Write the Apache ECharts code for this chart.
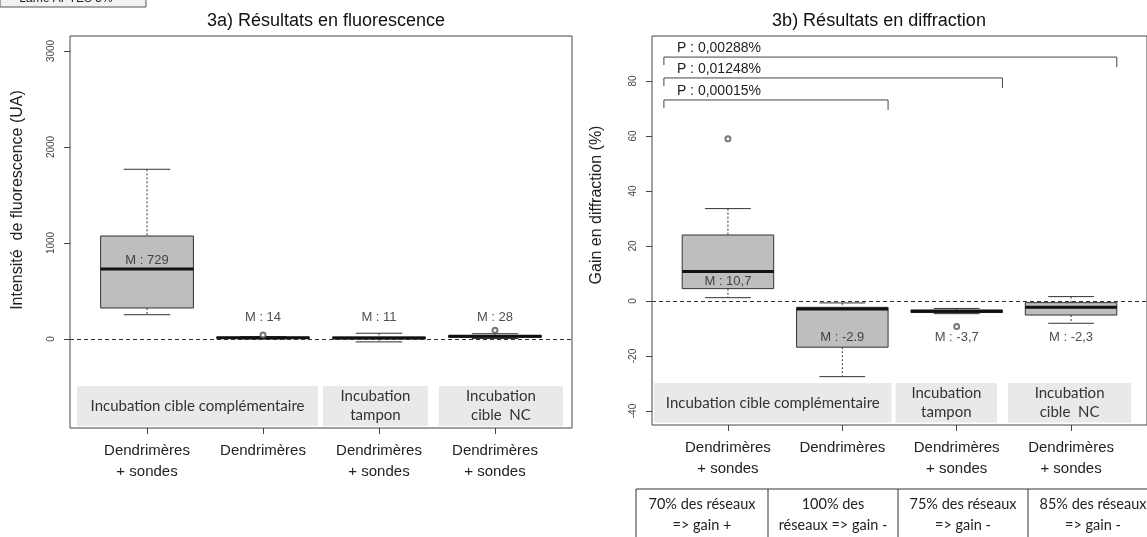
<!DOCTYPE html>
<html>
<head>
<meta charset="utf-8">
<script src="https://cdn.jsdelivr.net/npm/echarts@6/dist/echarts.min.js"></script>
<style>
html, body { margin: 0; padding: 0; background: #fff; }
#main { width: 1147px; height: 537px; }
</style>
</head>
<body>
<div id="main"></div>
<script>
// x tick labels (same four groups in both panels)
var categories = ['Dendrimères\n+ sondes', 'Dendrimères', 'Dendrimères\n+ sondes', 'Dendrimères\n+ sondes'];
var groupNames = ['Incubation cible complémentaire', 'Incubation\ntampon', 'Incubation\ncible  NC'];

// 3a : boxes as [min, Q1, median, Q3, max]
var fluoBoxes = [
	[253, 323, 729, 1073, 1768],
	[0, 8, 14, 18, 25],
	[-30, 2, 11, 20, 60],
	[5, 18, 28, 35, 55]
];
var fluoOutliers = [[2, 42], [4, 90]];
var fluoMedianText = ['M : 729', 'M : 14', 'M : 11', 'M : 28'];
var fluoTicks = [0, 1000, 2000, 3000];

// 3b
var diffBoxes = [
	[1.2, 4.5, 10.7, 24, 33.6],
	[-27.5, -16.8, -2.9, -2.3, -0.7],
	[-4.6, -4.2, -3.7, -3.3, -2.7],
	[-8.1, -5.1, -2.3, -0.6, 1.6]
];
var diffOutliers = [[1, 59], [3, -9.3]];
var diffMedianText = ['M : 10,7', 'M : -2.9', 'M : -3,7', 'M : -2,3'];
var diffTicks = [-40, -20, 0, 20, 40, 60, 80];

var pTexts = ['P : 0,00288%', 'P : 0,01248%', 'P : 0,00015%'];
var pTargets = [4, 3, 2];
var pLevels = [88.7, 81.1, 73.1];

var tableTexts = ['70% des réseaux\n=> gain +', '100% des\nréseaux => gain -', '75% des réseaux\n=> gain -', '85% des réseaux\n=> gain -'];

// layout (not data)
var L = {
	fluo: { yMin: -927.08, yMax: 3156.25, labelY: [823, 229, 229, 229], panelTop: -490, panelBot: -905,
		panels: [[0.397, 2.474], [2.517, 3.422], [3.517, 4.586]] },
	diff: { yMin: -45.09, yMax: 96.36, labelY: [7.3, -13.1, -13.1, -13.1], panelTop: -29.8, panelBot: -44.2,
		panels: [[0.353, 2.431], [2.466, 3.353], [3.448, 4.526]] }
};

var font = 'Liberation Sans, Arial, sans-serif';
var calibri = 'Lato, Open Sans, sans-serif';

function renderBox(params, api) {
	var x = api.value(0);
	var lo = api.coord([x, api.value(1)]);
	var q1 = api.coord([x, api.value(2)]);
	var md = api.coord([x, api.value(3)]);
	var q3 = api.coord([x, api.value(4)]);
	var hi = api.coord([x, api.value(5)]);
	var half = api.size([0.8, 0])[0] / 2;
	var cap = api.size([0.4, 0])[0] / 2;
	var cx = md[0];
	var dash = { stroke: '#333', lineWidth: 1, lineDash: [2, 2] };
	var ink = { stroke: '#333', lineWidth: 1 };
	return {
		type: 'group',
		children: [
			{ type: 'line', shape: { x1: cx, y1: hi[1], x2: cx, y2: q3[1] }, style: dash },
			{ type: 'line', shape: { x1: cx, y1: q1[1], x2: cx, y2: lo[1] }, style: dash },
			{ type: 'line', shape: { x1: cx - cap, y1: hi[1], x2: cx + cap, y2: hi[1] }, style: ink },
			{ type: 'line', shape: { x1: cx - cap, y1: lo[1], x2: cx + cap, y2: lo[1] }, style: ink },
			{ type: 'rect', shape: { x: cx - half, y: q3[1], width: half * 2, height: Math.max(q1[1] - q3[1], 1) },
				style: { fill: '#bebebe', stroke: '#333', lineWidth: 1 } },
			{ type: 'line', shape: { x1: cx - half, y1: md[1], x2: cx + half, y2: md[1] }, style: { stroke: '#111', lineWidth: 3 } }
		]
	};
}

function xAxisFor(idx) {
	return {
		gridIndex: idx, type: 'value', min: 0.336, max: 4.664,
		axisLine: { show: false, onZero: false },
		splitLine: { show: false },
		axisTick: { show: true, length: 6, customValues: [1, 2, 3, 4], lineStyle: { color: '#444' } },
		axisLabel: {
			customValues: [1, 2, 3, 4], margin: 12,
			fontFamily: font, fontSize: 15, color: '#222', lineHeight: 21,
			formatter: function (v) { return categories[Math.round(v) - 1] || ''; }
		}
	};
}

function yAxisFor(idx, cfg, ticks) {
	return {
		gridIndex: idx, type: 'value', min: cfg.yMin, max: cfg.yMax,
		axisLine: { show: false, onZero: false },
		splitLine: { show: false },
		axisTick: { show: true, length: 6, customValues: ticks, lineStyle: { color: '#444' } },
		axisLabel: { customValues: ticks, rotate: 90, margin: 14, fontFamily: font, fontSize: 10, color: '#444',
			formatter: function (v) { return String(Math.round(v)); } }
	};
}

function seriesFor(idx, cfg, boxes, outliers, medText) {
	var panelData = cfg.panels.map(function (p, i) {
		return [{ xAxis: p[0], yAxis: cfg.panelTop, name: groupNames[i] }, { xAxis: p[1], yAxis: cfg.panelBot }];
	});
	return [
		{
			type: 'scatter', xAxisIndex: idx, yAxisIndex: idx, z: 1,
			data: [], silent: true,
			markArea: {
				silent: true,
				itemStyle: { color: '#e9e9e9' },
				label: { show: true, position: 'inside', fontFamily: calibri, fontSize: 15, color: '#333', lineHeight: 19 },
				data: panelData
			},
			markLine: {
				silent: true, symbol: ['none', 'none'],
				label: { show: false },
				lineStyle: { type: [4, 3], color: '#333', width: 1 },
				data: [{ yAxis: 0 }]
			}
		},
		{
			type: 'custom', xAxisIndex: idx, yAxisIndex: idx, z: 3,
			renderItem: renderBox,
			data: boxes.map(function (b, i) { return [i + 1].concat(b); })
		},
		{
			type: 'scatter', xAxisIndex: idx, yAxisIndex: idx, z: 4,
			symbol: 'emptyCircle', symbolSize: 5,
			itemStyle: { color: '#555', borderWidth: 1 },
			data: outliers
		},
		{
			type: 'scatter', xAxisIndex: idx, yAxisIndex: idx, z: 5,
			symbolSize: 0,
			data: cfg.labelY.map(function (y, i) { return [i + 1, y]; }),
			label: {
				show: true, position: 'inside', fontFamily: font, fontSize: 13, color: '#222',
				formatter: function (p) { return medText[p.dataIndex]; }
			}
		}
	];
}

var chart = echarts.init(document.getElementById('main'));
var option = {
	animation: false,
	backgroundColor: '#fff',
	title: [
		{ text: '3a) Résultats en fluorescence', left: 321, top: 7, textAlign: 'center',
			textStyle: { fontFamily: font, fontSize: 18, fontWeight: 'normal', color: '#111' } },
		{ text: '3b) Résultats en diffraction', left: 874, top: 7, textAlign: 'center',
			textStyle: { fontFamily: font, fontSize: 18, fontWeight: 'normal', color: '#111' } }
	],
	grid: [
		{ left: 70, top: 36, width: 502, height: 392, show: true, borderColor: '#444', borderWidth: 1, backgroundColor: 'transparent' },
		{ left: 652, top: 36, width: 502, height: 389, show: true, borderColor: '#444', borderWidth: 1, backgroundColor: 'transparent' }
	],
	xAxis: [xAxisFor(0), xAxisFor(1)],
	yAxis: [yAxisFor(0, L.fluo, fluoTicks), yAxisFor(1, L.diff, diffTicks)],
	series: seriesFor(0, L.fluo, fluoBoxes, fluoOutliers, fluoMedianText)
		.concat(seriesFor(1, L.diff, diffBoxes, diffOutliers, diffMedianText))
};
chart.setOption(option);

// annotations placed through the chart's own scales
var g = [];
// cropped button at the very top
g.push({ type: 'rect', shape: { x: 0, y: -14, width: 146, height: 21 }, style: { fill: '#f2f2f2', stroke: '#555', lineWidth: 1 } });
g.push({ type: 'text', x: 66, y: -1, style: { text: 'Lame APTES 5%', font: '12px ' + font, fill: '#222', align: 'center', verticalAlign: 'middle' } });
// y axis titles
g.push({ type: 'text', x: 18, y: 200, rotation: Math.PI / 2,
	style: { text: 'Intensité  de fluorescence (UA)', font: '16px ' + font, fill: '#222', align: 'center', verticalAlign: 'middle' } });
g.push({ type: 'text', x: 597, y: 205, rotation: Math.PI / 2,
	style: { text: 'Gain en diffraction (%)', font: '16px ' + font, fill: '#222', align: 'center', verticalAlign: 'middle' } });
// significance brackets
pTexts.forEach(function (t, i) {
	var a = chart.convertToPixel({ gridIndex: 1 }, [1 - 0.56, pLevels[i]]);
	var b = chart.convertToPixel({ gridIndex: 1 }, [pTargets[i] + 0.4, pLevels[i]]);
	g.push({ type: 'polyline', shape: { points: [[a[0], a[1] + 8], [a[0], a[1]], [b[0], b[1]], [b[0], b[1] + 10]] },
		style: { stroke: '#444', lineWidth: 1, fill: null } });
	g.push({ type: 'text', x: a[0] + 13, y: a[1] - 9,
		style: { text: t, font: '14px ' + font, fill: '#222', align: 'left', verticalAlign: 'middle' } });
});
// table under 3b
var colX = [636, 768, 898, 1028, 1158];
var tTop = 489;
g.push({ type: 'line', shape: { x1: colX[0], y1: tTop, x2: 1147, y2: tTop }, style: { stroke: '#333', lineWidth: 1 } });
for (var c = 0; c < 4; c++) {
	g.push({ type: 'line', shape: { x1: colX[c], y1: tTop, x2: colX[c], y2: 537 }, style: { stroke: '#333', lineWidth: 1 } });
	g.push({ type: 'text', x: (colX[c] + colX[c + 1]) / 2, y: tTop + 26,
		style: { text: tableTexts[c], font: '14.5px ' + calibri, fill: '#222', align: 'center', verticalAlign: 'middle', lineHeight: 21 } });
}
chart.setOption({ graphic: { elements: g } });

window.addEventListener('resize', function () { chart.resize(); });
</script>
</body>
</html>
